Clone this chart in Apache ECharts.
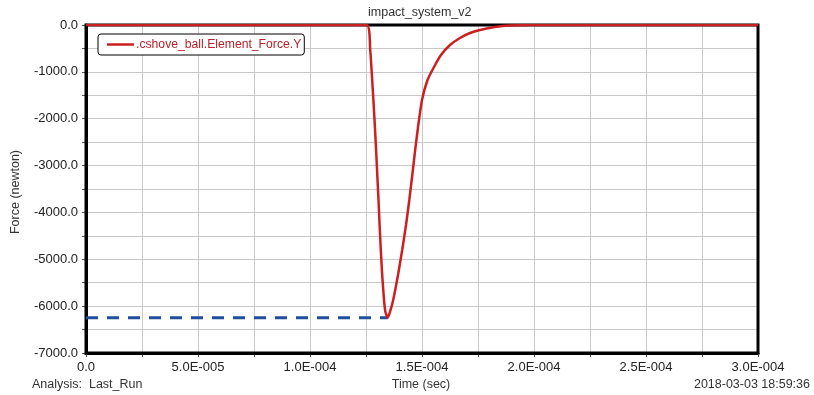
<!DOCTYPE html>
<html>
<head>
<meta charset="utf-8">
<script src="https://cdn.jsdelivr.net/npm/echarts@6/dist/echarts.min.js"></script>
<style>html,body{margin:0;padding:0;background:#fff}#c{width:814px;height:395px}</style>
</head>
<body>
<div id="c"></div>
<script>
var timeSec = [0, 1.2531e-4, 1.2688e-4, 1.2763e-4, 1.2830e-4, 1.2893e-4, 1.2951e-4, 1.3004e-4, 1.3058e-4, 1.3107e-4, 1.3161e-4, 1.3223e-4, 1.3304e-4, 1.3366e-4, 1.3469e-4,
  1.3571e-4, 1.3714e-4, 1.3929e-4, 1.4116e-4, 1.4286e-4, 1.4433e-4, 1.4567e-4, 1.4696e-4, 1.4835e-4, 1.5000e-4, 1.5246e-4, 1.5536e-4, 1.5848e-4, 1.6250e-4, 1.6696e-4, 1.7143e-4, 1.7589e-4, 1.8259e-4, 1.8929e-4, 1.9821e-4, 3.0e-4];
var forceN = [0, 0, -533, -1067, -1600, -2134, -2667, -3201, -3734, -4268, -4801, -5335, -5868, -6124, -6250,
  -6124, -5868, -5335, -4801, -4268, -3734, -3201, -2667, -2134, -1600, -1174, -896, -640, -427, -277, -171, -107, -43, -11, 0, 0];
var peakTime = 1.3469e-4;
var peakForce = -6250;
var peakLabel = '-6250N';
var seriesName = '.cshove_ball.Element_Force.Y';
var titleText = 'impact_system_v2';
var xName = 'Time (sec)';
var yName = 'Force (newton)';
var footLeft = 'Analysis:  Last_Run';
var footRight = '2018-03-03 18:59:36';

function fmtX(v) {
  if (Math.abs(v) < 1e-12) return '0.0';
  var k = v / 5e-5;
  if (Math.abs(k - Math.round(k)) > 1e-6) return '';
  var s = v.toExponential(1).split('e');
  var e = parseInt(s[1], 10);
  var sign = e < 0 ? '-' : '+';
  var ae = ('000' + Math.abs(e)).slice(-3);
  return s[0] + 'E' + sign + ae;
}
function fmtY(v) {
  if (Math.round(v) % 1000 !== 0) return '';
  return v.toFixed(1);
}

var chart = echarts.init(document.getElementById('c'));
var font = 'Liberation Sans, Arial, sans-serif';
chart.setOption({
  animation: false,
  backgroundColor: '#fff',
  textStyle: { fontFamily: font },
  grid: { left: 86, right: 56, top: 25, bottom: 42, show: true, borderColor: '#000', borderWidth: 3, backgroundColor: 'transparent', z: 3 },
  legend: {
    data: [{ name: seriesName, icon: 'rect' }],
    left: 98, top: 34,
    orient: 'vertical',
    padding: [4, 3, 4, 9],
    borderColor: '#000', borderWidth: 1, borderRadius: 3,
    backgroundColor: '#fff',
    itemWidth: 27, itemHeight: 2.5, itemGap: 3,
    textStyle: { color: '#b8212a', fontSize: 12.2, fontFamily: font, padding: [0, 0, 0, -3], lineHeight: 13 }
  },
  xAxis: {
    type: 'value', min: 0, max: 3e-4, interval: 2.5e-5,
    axisLine: { show: true, onZero: false, lineStyle: { color: '#000', width: 3 } },
    axisTick: { show: true, length: 4, lineStyle: { color: '#555' } },
    splitLine: { show: true, lineStyle: { color: '#c8c8c8', width: 1 } },
    axisLabel: { formatter: fmtX, color: '#222', fontSize: 13, margin: 8, fontFamily: font, showMaxLabel: true, showMinLabel: true }
  },
  yAxis: {
    type: 'value', min: -7000, max: 0, interval: 500,
    axisLine: { show: true, onZero: false, lineStyle: { color: '#000', width: 3 } },
    axisTick: { show: true, length: 4, lineStyle: { color: '#555' } },
    splitLine: { show: true, lineStyle: { color: '#c8c8c8', width: 1 } },
    axisLabel: { formatter: fmtY, color: '#222', fontSize: 13, margin: 8, fontFamily: font }
  },
  series: [
    {
      name: seriesName, type: 'line', z: 5,
      data: timeSec.map(function (t, i) { return [t, forceN[i]]; }),
      symbol: 'none', smooth: 0.15,
      lineStyle: { color: '#cc1f1f', width: 2.5 },
      itemStyle: { color: '#cc1f1f' }
    },
    {
      name: 'peak', type: 'line', z: 4,
      data: [[0, peakForce], { value: [peakTime, peakForce], label: { show: true, position: 'right', distance: 25, formatter: peakLabel, color: '#e8545a', fontSize: 14, fontFamily: font } }],
      symbol: 'none', showSymbol: false,
      lineStyle: { color: '#1f4e9c', width: 3, type: [12, 9] },
      label: { show: false }
    }
  ],
  graphic: [
    { type: 'text', left: 368, top: 6, style: { text: titleText, fill: '#333', font: '12.5px ' + font } },
    { type: 'text', x: 16, y: 192, rotation: Math.PI / 2, style: { text: yName, fill: '#333', font: '12.5px ' + font, textAlign: 'center', textVerticalAlign: 'middle' } },
    { type: 'text', x: 421, y: 385, style: { text: xName, fill: '#333', font: '12.5px ' + font, textAlign: 'center', textVerticalAlign: 'middle' } },
    { type: 'text', x: 32, y: 385, style: { text: footLeft, fill: '#333', font: '12.5px ' + font, textAlign: 'left', textVerticalAlign: 'middle' } },
    { type: 'text', x: 810, y: 385, style: { text: footRight, fill: '#333', font: '12.5px ' + font, textAlign: 'right', textVerticalAlign: 'middle' } }
  ]
});
</script>
</body>
</html>
